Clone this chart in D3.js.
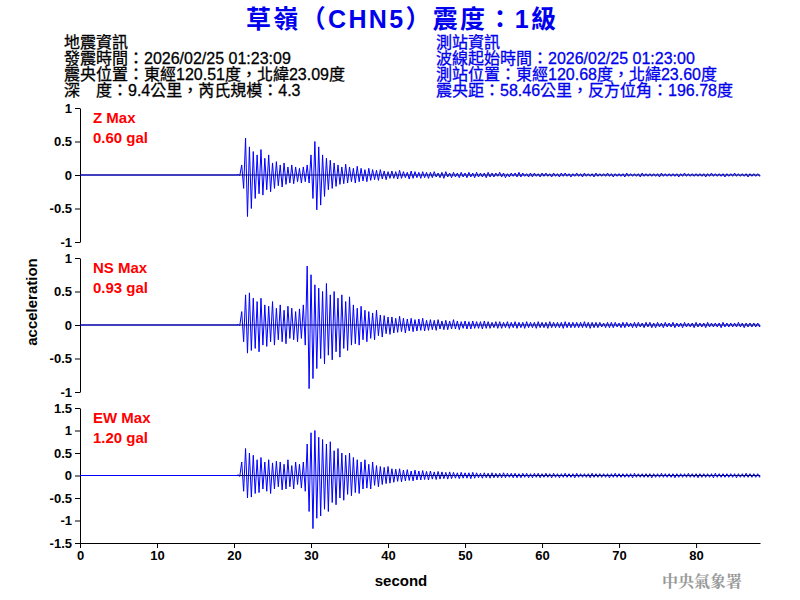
<!DOCTYPE html>
<html><head><meta charset="utf-8">
<script src="https://cdn.jsdelivr.net/npm/d3@7"></script>
<style>body{margin:0;background:#fff}</style>
</head><body>
<svg id="chart" width="800" height="600"></svg>
<script>
// bins of 0.5 s starting at t0; each bin draws its peak max then its peak min
var t0 = 20.5, binSec = 0.5, tEnd = 88.3;
var xTicks = [0, 10, 20, 30, 40, 50, 60, 70, 80];

var zMax = [.01,.15,.55,.42,.35,.30,.38,.25,.30,.18,.20,.15,.18,.12,.15,.12,.10,.12,.15,.30,
  .50,.42,.30,.25,.22,.18,.15,.12,.16,.12,.10,.13,.10,.08,.10,.08,.07,.08,.06,.05,
  .06,.05,.07,.05,.04,.06,.05,.04,.05,.04,.04,.05,.03,.04,.05,.03,.04,.03,.04,.03,
  .04,.03,.04,.03,.03,.04,.03,.03,.04,.03,.02,.03,.03,.04,.03,.02,.03,.03,.02,.03,
  .03,.02,.03,.02,.03,.03,.02,.02,.03,.02,.03,.02,.02,.03,.02,.02,.03,.02,.02,.02,
  .02,.03,.02,.02,.02,.03,.02,.02,.02,.02,.03,.02,.02,.02,.02,.02,.03,.02,.02,.02,
  .02,.02,.02,.03,.02,.02,.02,.02,.02,.03,.02,.02,.02,.02,.02,.02];
var zMin = [-.01,-.2,-.62,-.5,-.35,-.28,-.3,-.22,-.25,-.2,-.16,-.18,-.14,-.12,-.13,-.1,-.12,-.1,-.12,-.35,
  -.52,-.45,-.32,-.22,-.2,-.17,-.14,-.13,-.12,-.1,-.12,-.1,-.09,-.1,-.08,-.07,-.08,-.06,-.07,-.05,
  -.05,-.06,-.05,-.04,-.06,-.05,-.04,-.05,-.04,-.05,-.04,-.03,-.04,-.05,-.03,-.04,-.03,-.04,-.03,-.04,
  -.03,-.04,-.03,-.03,-.04,-.03,-.03,-.02,-.03,-.04,-.03,-.02,-.03,-.03,-.02,-.03,-.03,-.02,-.03,-.02,
  -.02,-.03,-.02,-.03,-.02,-.02,-.03,-.02,-.02,-.03,-.02,-.02,-.03,-.02,-.02,-.02,-.02,-.03,-.02,-.02,
  -.03,-.02,-.02,-.02,-.03,-.02,-.02,-.02,-.02,-.03,-.02,-.02,-.02,-.02,-.03,-.02,-.02,-.02,-.02,-.02,
  -.02,-.03,-.02,-.02,-.02,-.02,-.03,-.02,-.02,-.02,-.02,-.02,-.03,-.02,-.02,-.02];

var nsMax = [.01,.2,.45,.48,.4,.35,.4,.3,.28,.35,.25,.3,.22,.28,.25,.2,.24,.3,.88,.75,
  .6,.55,.5,.62,.45,.5,.4,.45,.35,.42,.3,.25,.28,.22,.2,.18,.22,.15,.14,.12,
  .12,.1,.13,.1,.09,.1,.08,.09,.1,.07,.08,.07,.08,.06,.07,.06,.08,.06,.05,.06,
  .05,.06,.05,.05,.06,.05,.04,.05,.05,.04,.05,.04,.05,.04,.04,.05,.04,.04,.05,.04,
  .04,.05,.04,.04,.04,.05,.04,.04,.04,.04,.05,.04,.04,.04,.04,.03,.04,.04,.04,.03,
  .04,.04,.03,.04,.04,.03,.04,.04,.03,.04,.03,.04,.03,.04,.03,.03,.04,.03,.03,.04,
  .03,.03,.04,.03,.03,.03,.04,.03,.03,.03,.04,.03,.03,.03,.03,.03];
var nsMin = [-.01,-.25,-.42,-.38,-.35,-.4,-.3,-.32,-.25,-.3,-.22,-.25,-.28,-.2,-.22,-.25,-.2,-.3,-.95,-.8,
  -.65,-.5,-.58,-.45,-.52,-.4,-.48,-.35,-.38,-.3,-.28,-.3,-.22,-.25,-.2,-.22,-.16,-.18,-.13,-.14,
  -.12,-.11,-.1,-.12,-.09,-.1,-.09,-.08,-.09,-.08,-.07,-.08,-.06,-.07,-.07,-.06,-.06,-.07,-.05,-.06,
  -.06,-.05,-.05,-.06,-.05,-.05,-.04,-.05,-.05,-.04,-.05,-.04,-.05,-.04,-.05,-.04,-.04,-.05,-.04,-.04,
  -.05,-.04,-.04,-.04,-.05,-.04,-.04,-.04,-.04,-.04,-.04,-.05,-.04,-.04,-.03,-.04,-.04,-.04,-.03,-.04,
  -.04,-.03,-.04,-.04,-.03,-.04,-.03,-.04,-.04,-.03,-.04,-.03,-.03,-.04,-.03,-.04,-.03,-.03,-.04,-.03,
  -.03,-.04,-.03,-.03,-.03,-.04,-.03,-.03,-.03,-.03,-.03,-.04,-.03,-.03,-.03,-.03];

var ewMax = [.02,.3,.6,.5,.45,.35,.4,.3,.35,.28,.32,.3,.25,.35,.22,.3,.25,.3,.7,.95,
  1.0,.85,.8,.7,.75,.55,.6,.5,.45,.5,.4,.35,.3,.35,.25,.3,.22,.2,.18,.2,
  .15,.14,.15,.12,.13,.1,.12,.1,.11,.09,.1,.08,.09,.08,.07,.08,.07,.06,.07,.06,
  .06,.07,.06,.05,.06,.05,.06,.05,.05,.06,.05,.05,.05,.04,.05,.05,.04,.05,.05,.04,
  .05,.04,.05,.04,.04,.05,.04,.04,.05,.04,.04,.04,.05,.04,.04,.04,.04,.04,.05,.04,
  .04,.04,.04,.05,.04,.04,.04,.04,.04,.04,.05,.04,.04,.04,.04,.04,.04,.05,.04,.04,
  .04,.04,.04,.04,.05,.04,.04,.04,.04,.04,.04,.04,.05,.04,.04,.04];
var ewMin = [-.02,-.35,-.5,-.48,-.4,-.38,-.3,-.35,-.4,-.3,-.25,-.32,-.3,-.25,-.3,-.2,-.28,-.35,-.8,-1.18,
  -.95,-.9,-.75,-.8,-.6,-.65,-.5,-.55,-.42,-.45,-.38,-.4,-.3,-.28,-.3,-.22,-.25,-.2,-.18,-.17,
  -.15,-.13,-.14,-.12,-.11,-.12,-.1,-.1,-.09,-.1,-.08,-.09,-.08,-.07,-.08,-.07,-.06,-.07,-.06,-.06,
  -.07,-.06,-.05,-.06,-.05,-.06,-.05,-.05,-.05,-.05,-.04,-.05,-.05,-.05,-.04,-.05,-.05,-.04,-.05,-.04,
  -.04,-.05,-.04,-.05,-.04,-.04,-.04,-.05,-.04,-.04,-.04,-.05,-.04,-.04,-.04,-.04,-.05,-.04,-.04,-.04,
  -.04,-.04,-.05,-.04,-.04,-.04,-.04,-.05,-.04,-.04,-.04,-.04,-.04,-.05,-.04,-.04,-.04,-.04,-.04,-.05,
  -.04,-.04,-.04,-.05,-.04,-.04,-.04,-.04,-.04,-.05,-.04,-.04,-.04,-.04,-.04,-.04];

var panels = [
  {name: 'Z Max',  peak: '0.60 gal', max: zMax,  min: zMin,  domain: [-1, 1],     ticks: [-1, -0.5, 0, 0.5, 1],            top: 108, bottom: 242},
  {name: 'NS Max', peak: '0.93 gal', max: nsMax, min: nsMin, domain: [-1, 1],     ticks: [-1, -0.5, 0, 0.5, 1],            top: 258, bottom: 392},
  {name: 'EW Max', peak: '1.20 gal', max: ewMax, min: ewMin, domain: [-1.5, 1.5], ticks: [-1.5, -1, -0.5, 0, 0.5, 1, 1.5], top: 408, bottom: 543}
];

var quakeInfo = ['地震資訊', '發震時間：2026/02/25 01:23:09', '震央位置：東經120.51度，北緯23.09度', '深　度：9.4公里，芮氏規模：4.3'];
var stationInfo = ['測站資訊', '波線起始時間：2026/02/25 01:23:00', '測站位置：東經120.68度，北緯23.60度', '震央距：58.46公里，反方位角：196.78度'];

var svg = d3.select('#chart');
var font = '"Liberation Sans", Arial, "Noto Sans CJK TC", sans-serif';
var cjk = '"Liberation Sans", "Noto Sans CJK TC", sans-serif';
var left = 80, right = 760;

var x = d3.scaleLinear().domain([0, tEnd]).range([left, right]);

svg.append('text').attr('x', 401).attr('y', 28).attr('text-anchor', 'middle')
  .attr('fill', '#0000ee').attr('font-family', cjk).attr('font-weight', 'bold').attr('font-size', 25)
  .attr('textLength', 310).attr('lengthAdjust', 'spacing')
  .text('草嶺（CHN5）震度：1級');

svg.selectAll('text.qi').data(quakeInfo).enter().append('text')
  .attr('x', 64).attr('y', function(d, i) { return 48 + i * 16; })
  .attr('font-family', cjk).attr('font-size', 16).attr('fill', '#000')
  .attr('stroke', '#000').attr('stroke-width', 0.3).text(function(d) { return d; });
svg.selectAll('text.si').data(stationInfo).enter().append('text')
  .attr('x', 436).attr('y', function(d, i) { return 48 + i * 16; })
  .attr('font-family', cjk).attr('font-size', 16).attr('fill', '#0000ee')
  .attr('stroke', '#0000ee').attr('stroke-width', 0.3).text(function(d) { return d; });

panels.forEach(function(p, k) {
  var y = d3.scaleLinear().domain(p.domain).range([p.bottom, p.top]);
  var g = svg.append('g');

  g.append('g').attr('transform', 'translate(' + left + ',0)')
    .call(d3.axisLeft(y).tickValues(p.ticks).tickSize(5).tickSizeOuter(0).tickFormat(String))
    .call(function(a) {
      a.selectAll('text').attr('font-family', font).attr('font-size', 13).attr('font-weight', 'bold').attr('fill', '#000');
      a.select('.domain').attr('stroke', '#000');
    });

  g.append('line').attr('x1', left).attr('x2', right).attr('y1', y(0)).attr('y2', y(0))
    .attr('stroke', '#000').attr('stroke-width', 1);

  var pts = [[0, 0], [t0, 0]];
  p.max.forEach(function(v, i) {
    var t = t0 + i * binSec;
    pts.push([t, v]);
    pts.push([t + binSec / 2, p.min[i]]);
  });
  pts.push([tEnd, 0]);
  var line = d3.line().x(function(d) { return x(d[0]); }).y(function(d) { return y(d[1]); });
  g.append('path').attr('d', line(pts)).attr('fill', 'none').attr('stroke', '#0000ff').attr('stroke-width', 1);

  g.append('text').attr('x', 93).attr('y', p.top + 15).attr('fill', '#ff0000')
    .attr('font-family', font).attr('font-size', 15).attr('font-weight', 'bold').text(p.name);
  g.append('text').attr('x', 93).attr('y', p.top + 35).attr('fill', '#ff0000')
    .attr('font-family', font).attr('font-size', 15).attr('font-weight', 'bold').text(p.peak);

  if (k === panels.length - 1) {
    svg.append('g').attr('transform', 'translate(0,' + p.bottom + ')')
      .call(d3.axisBottom(x).tickValues(xTicks).tickSize(5).tickSizeOuter(0))
      .call(function(a) {
        a.selectAll('text').attr('font-family', font).attr('font-size', 13).attr('font-weight', 'bold').attr('fill', '#000');
        a.select('.domain').attr('stroke', '#000');
      });
  }
});

svg.append('text').attr('transform', 'translate(37,302) rotate(-90)').attr('text-anchor', 'middle')
  .attr('font-family', font).attr('font-size', 15).attr('font-weight', 'bold').text('acceleration');
svg.append('text').attr('x', 401).attr('y', 586).attr('text-anchor', 'middle')
  .attr('font-family', font).attr('font-size', 15).attr('font-weight', 'bold').text('second');
svg.append('text').attr('x', 702).attr('y', 587).attr('text-anchor', 'middle')
  .attr('font-family', '"Noto Serif CJK TC", "Noto Sans CJK TC", serif').attr('font-size', 16).attr('font-weight', 'bold')
  .attr('fill', '#999').text('中央氣象署');
</script>
</body></html>
